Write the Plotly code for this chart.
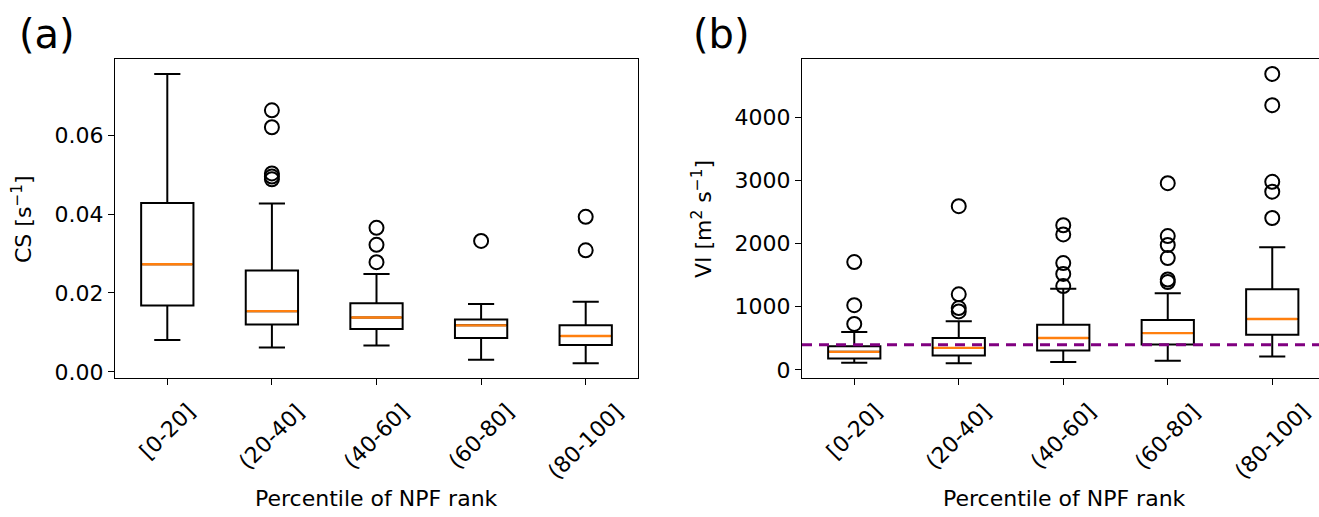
import plotly.graph_objects as go

categories = ["[0-20]", "(20-40]", "(40-60]", "(60-80]", "(80-100]"]
positions = [1, 2, 3, 4, 5]

# Panel (a): CS [s^-1]
cs_lower = [0.0081, 0.0062, 0.0067, 0.0031, 0.0022]
cs_q1 = [0.0168, 0.0120, 0.0109, 0.0086, 0.0068]
cs_median = [0.0273, 0.0154, 0.0138, 0.0118, 0.0091]
cs_q3 = [0.0428, 0.0257, 0.0174, 0.0133, 0.0118]
cs_upper = [0.0755, 0.0427, 0.0248, 0.0172, 0.0178]
cs_outliers = [[], [0.0663, 0.0620, 0.0503, 0.0495, 0.0488], [0.0365, 0.0322, 0.0278], [0.0332], [0.0393, 0.0308]]

# Panel (b): VI [m^2 s^-1]
vi_lower = [114, 104, 125, 146, 214]
vi_q1 = [182, 229, 307, 401, 557]
vi_median = [286, 349, 505, 583, 807]
vi_q3 = [375, 505, 714, 792, 1276]
vi_upper = [599, 771, 1286, 1214, 1943]
vi_outliers = [[1708, 1026, 729], [2594, 1198, 979, 927], [2292, 2146, 1693, 1521, 1328],
               [2958, 2120, 1979, 1771, 1432, 1391], [4688, 4193, 2979, 2823, 2406]]
vi_threshold = 400

W, H = 1319, 517
FONT = "DejaVu Sans"
BOXW = 0.5

fig = go.Figure()

def add_panel(xa, ya, lower, q1, med, q3, upper, outl):
    for i, p in enumerate(positions):
        fig.add_trace(go.Box(
            x=[p], q1=[q1[i]], median=[med[i]], q3=[q3[i]],
            lowerfence=[lower[i]], upperfence=[upper[i]],
            boxpoints=False, width=BOXW, whiskerwidth=0.5,
            line=dict(color="black", width=2), fillcolor="rgba(0,0,0,0)",
            xaxis=xa, yaxis=ya, showlegend=False, hoverinfo="skip"))
        fig.add_trace(go.Scatter(
            x=[p - BOXW / 2 + 0.01, p + BOXW / 2 - 0.01], y=[med[i], med[i]], mode="lines",
            line=dict(color="#ff7f0e", width=2.4), xaxis=xa, yaxis=ya,
            showlegend=False, hoverinfo="skip"))
        if outl[i]:
            fig.add_trace(go.Scatter(
                x=[p] * len(outl[i]), y=outl[i], mode="markers",
                marker=dict(symbol="circle-open", size=14, color="black", line=dict(width=2)),
                xaxis=xa, yaxis=ya, showlegend=False, hoverinfo="skip"))

add_panel("x", "y", cs_lower, cs_q1, cs_median, cs_q3, cs_upper, cs_outliers)
add_panel("x2", "y2", vi_lower, vi_q1, vi_median, vi_q3, vi_upper, vi_outliers)

# threshold dashed line in panel (b)
fig.add_trace(go.Scatter(x=[0.5, 5.6], y=[vi_threshold, vi_threshold], mode="lines",
                         line=dict(color="purple", width=3, dash="10px,7px"),
                         xaxis="x2", yaxis="y2", showlegend=False, hoverinfo="skip"))

ydom = [1 - 383 / H, 1 - 60 / H]
ax_common = dict(showline=True, linecolor="black", linewidth=1.4, ticks="outside",
                 ticklen=6, tickwidth=1.4, tickcolor="black", showgrid=False, zeroline=False,
                 tickfont=dict(family=FONT, size=22, color="black"))

fig.update_layout(
    width=W, height=H, margin=dict(l=0, r=0, t=0, b=0),
    paper_bgcolor="white", plot_bgcolor="white",
    font=dict(family=FONT, size=22, color="black"),
    xaxis=dict(domain=[115 / W, 638 / W], range=[0.5, 5.5], tickvals=positions,
               showticklabels=False, mirror=True, **ax_common),
    yaxis=dict(domain=ydom, range=[-0.0015, 0.07925], tickvals=[0, 0.02, 0.04, 0.06],
               tickformat=".2f", mirror=True, **ax_common),
    xaxis2=dict(domain=[802 / W, 1.0], range=[0.5, 0.5 + (W - 802) / 104.5], tickvals=positions,
                showticklabels=False, mirror=True, anchor="y2", **ax_common),
    yaxis2=dict(domain=ydom, range=[-125, 4922], tickvals=[0, 1000, 2000, 3000, 4000],
                mirror=False, anchor="x2", **ax_common),
)

ann = []
for xr in ["x", "x2"]:
    for p, c in zip(positions, categories):
        ann.append(dict(x=p, xref=xr, y=1 - 402 / H, yref="paper", text=c, showarrow=False,
                        textangle=-45, xanchor="center", yanchor="top",
                        font=dict(family=FONT, size=22, color="black")))
ann.append(dict(x=376 / W, y=1 - 505 / H, xref="paper", yref="paper", text="Percentile of NPF rank",
                showarrow=False, xanchor="center", yanchor="middle", font=dict(family=FONT, size=22)))
ann.append(dict(x=1064 / W, y=1 - 505 / H, xref="paper", yref="paper", text="Percentile of NPF rank",
                showarrow=False, xanchor="center", yanchor="middle", font=dict(family=FONT, size=22)))
ann.append(dict(x=22 / W, y=1 - 222 / H, xref="paper", yref="paper", text="CS [s<sup>−1</sup>]",
                showarrow=False, textangle=-90, xanchor="center", yanchor="middle",
                font=dict(family=FONT, size=22)))
ann.append(dict(x=702 / W, y=1 - 222 / H, xref="paper", yref="paper", text="VI [m<sup>2</sup> s<sup>−1</sup>]",
                showarrow=False, textangle=-90, xanchor="center", yanchor="middle",
                font=dict(family=FONT, size=22)))
ann.append(dict(x=47 / W, y=1 - 34 / H, xref="paper", yref="paper", text="(a)", showarrow=False,
                xanchor="center", yanchor="middle", font=dict(family=FONT, size=40)))
ann.append(dict(x=721 / W, y=1 - 34 / H, xref="paper", yref="paper", text="(b)", showarrow=False,
                xanchor="center", yanchor="middle", font=dict(family=FONT, size=40)))
fig.update_layout(annotations=ann)

fig.write_html("out.html")
